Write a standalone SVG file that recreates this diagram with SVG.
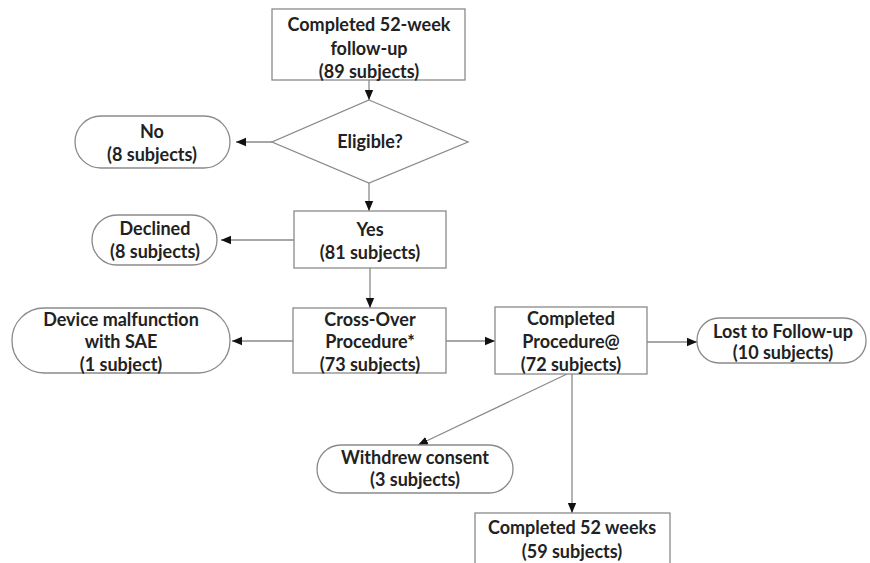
<svg xmlns="http://www.w3.org/2000/svg" width="870" height="563" viewBox="0 0 870 563">
<defs>
<marker id="ah" markerUnits="userSpaceOnUse" markerWidth="10" markerHeight="10" viewBox="0 0 10 10" refX="10" refY="5" orient="auto">
<path d="M0,0.8 L10,5 L0,9.2 z" fill="#111"/>
</marker>
<style>
.box{fill:#fff;stroke:#8a8a8a;stroke-width:1.3}
.t{font-family:Lato,"Open Sans","Liberation Sans",sans-serif;font-weight:bold;font-size:18px;fill:#222;text-anchor:middle}
.c{stroke:#8a8a8a;stroke-width:1.3;fill:none;marker-end:url(#ah)}
</style>
</defs>
<rect width="870" height="563" fill="#fff"/>
<g id="connectors">
<line class="c" x1="369" y1="80" x2="369" y2="100"/>
<line class="c" x1="272" y1="142" x2="236" y2="142"/>
<line class="c" x1="369" y1="183" x2="369" y2="211"/>
<line class="c" x1="294" y1="240" x2="221" y2="240"/>
<line class="c" x1="370" y1="268" x2="370" y2="308"/>
<line class="c" x1="293" y1="341" x2="232" y2="341"/>
<line class="c" x1="446" y1="341" x2="495" y2="341"/>
<line class="c" x1="647" y1="342" x2="697" y2="342"/>
<line class="c" x1="567" y1="374" x2="418" y2="445"/>
<line class="c" x1="572" y1="374" x2="572" y2="513"/>
</g>
<g id="start">
<rect class="box" x="272" y="9" width="193" height="71"/>
<text class="t" x="369" y="31">Completed 52-week</text>
<text class="t" x="369" y="55">follow-up</text>
<text class="t" x="369" y="78">(89 subjects)</text>
</g>
<g id="eligible">
<polygon class="box" points="369,100 468,142 369,183 272,142"/>
<text class="t" x="370" y="148">Eligible?</text>
</g>
<g id="no">
<rect class="box" x="75" y="116" width="155" height="52" rx="26"/>
<text class="t" x="152" y="138">No</text>
<text class="t" x="152" y="161">(8 subjects)</text>
</g>
<g id="declined">
<rect class="box" x="92" y="215" width="125" height="50" rx="25"/>
<text class="t" x="155" y="235">Declined</text>
<text class="t" x="155" y="258">(8 subjects)</text>
</g>
<g id="yes">
<rect class="box" x="294" y="211" width="152" height="57"/>
<text class="t" x="370" y="236">Yes</text>
<text class="t" x="370" y="259">(81 subjects)</text>
</g>
<g id="crossover">
<rect class="box" x="293" y="308" width="153" height="65"/>
<text class="t" x="370" y="326">Cross-Over</text>
<text class="t" x="370" y="348">Procedure*</text>
<text class="t" x="370" y="371">(73 subjects)</text>
</g>
<g id="device">
<rect class="box" x="12" y="308" width="218" height="65" rx="32"/>
<text class="t" x="121" y="326">Device malfunction</text>
<text class="t" x="121" y="348">with SAE</text>
<text class="t" x="121" y="371">(1 subject)</text>
</g>
<g id="completed-procedure">
<rect class="box" x="495" y="307" width="152" height="67"/>
<text class="t" x="571" y="325">Completed</text>
<text class="t" x="571" y="348">Procedure@</text>
<text class="t" x="571" y="371">(72 subjects)</text>
</g>
<g id="lost">
<rect class="box" x="697" y="318" width="169" height="45" rx="22"/>
<text class="t" x="783" y="338">Lost to Follow-up</text>
<text class="t" x="783" y="359">(10 subjects)</text>
</g>
<g id="withdrew">
<rect class="box" x="317" y="445" width="196" height="48" rx="24"/>
<text class="t" x="415" y="464">Withdrew consent</text>
<text class="t" x="415" y="486">(3 subjects)</text>
</g>
<g id="completed-52">
<rect class="box" x="475" y="513" width="195" height="60"/>
<text class="t" x="572" y="534">Completed 52 weeks</text>
<text class="t" x="572" y="558">(59 subjects)</text>
</g>
</svg>
